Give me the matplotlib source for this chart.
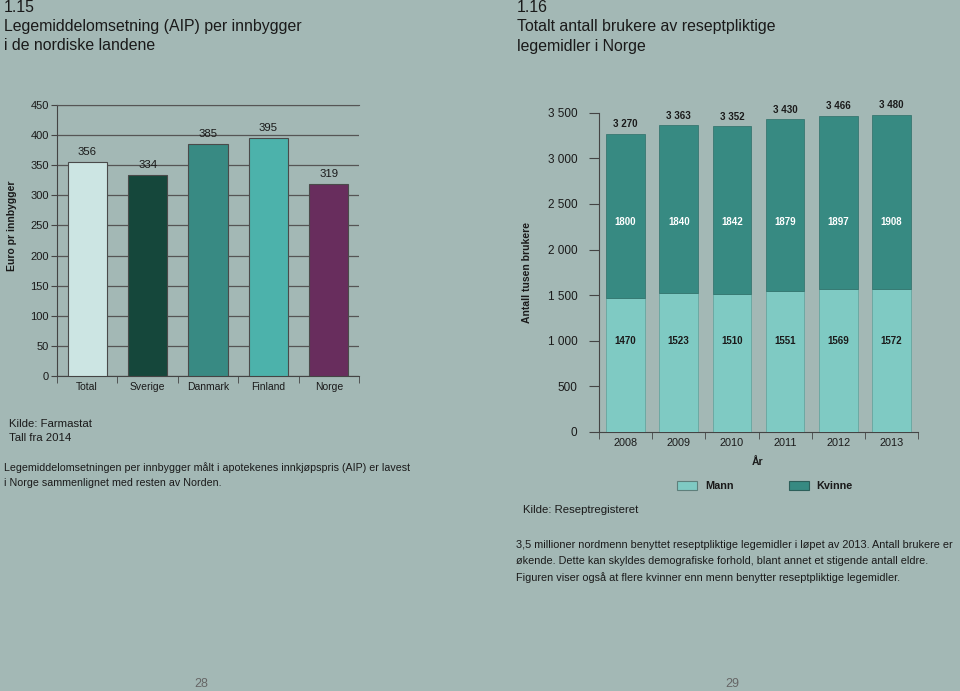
import matplotlib
matplotlib.use("Agg")
import matplotlib.pyplot as plt
from matplotlib.patches import Patch
from matplotlib.ticker import FuncFormatter, MultipleLocator, FixedLocator

plt.rcParams['font.family'] = ['Liberation Sans', 'DejaVu Sans']

# ---- data ----
countries = ["Total", "Sverige", "Danmark", "Finland", "Norge"]
aip_values = [356, 334, 385, 395, 319]
country_colors = ["#cce5e3", "#15473b", "#388a83", "#4cb2ab", "#682d5d"]

years = ["2008", "2009", "2010", "2011", "2012", "2013"]
mann = [1470, 1523, 1510, 1551, 1569, 1572]
kvinne = [1800, 1840, 1842, 1879, 1897, 1908]
totals = [3270, 3363, 3352, 3430, 3466, 3480]

BG = "#a3b8b5"
INK = "#1a1a1a"
AX = "#444444"
MANN_C = "#7fcac3"
KVINNE_C = "#378a82"

W, H = 960, 691
fig = plt.figure(figsize=(W / 100, H / 100), dpi=100, facecolor=BG)

def fx(px):
    return px / W

def fy(py):
    return 1 - py / H

TS = 11.4
# ---- titles ----
fig.text(fx(4), fy(8), "1.15", fontsize=TS, color=INK, va="center", ha="left")
fig.text(fx(4), fy(27), "Legemiddelomsetning (AIP) per innbygger", fontsize=TS, color=INK, va="center")
fig.text(fx(4), fy(46), "i de nordiske landene", fontsize=TS, color=INK, va="center")
fig.text(fx(517), fy(8), "1.16", fontsize=TS, color=INK, va="center")
fig.text(fx(517), fy(27), "Totalt antall brukere av reseptpliktige", fontsize=TS, color=INK, va="center")
fig.text(fx(517), fy(46), "legemidler i Norge", fontsize=TS, color=INK, va="center")

# ---- left chart ----
ax1 = fig.add_axes([fx(57), fy(376), fx(359 - 57), (376 - 105) / H])
ax1.set_facecolor("none")
x1 = list(range(len(countries)))
ax1.bar(x1, aip_values, width=0.65, color=country_colors, edgecolor="#4a4a4a", linewidth=0.8, zorder=3)
for xi, v in zip(x1, aip_values):
    ax1.text(xi, v + 8, f"{v}", ha="center", va="bottom", fontsize=8.2, color=INK, zorder=4)
ax1.set_xlim(-0.5, len(countries) - 0.5)
ax1.set_ylim(0, 450)
ax1.yaxis.set_major_locator(MultipleLocator(50))
ax1.grid(axis="y", color="#555555", linewidth=0.9, zorder=0)
ax1.set_axisbelow(True)
ax1.spines["right"].set_visible(False)
ax1.spines["top"].set_color("#555555")
ax1.spines["left"].set_color(AX)
ax1.spines["bottom"].set_color(AX)
ax1.set_xticks(x1)
ax1.set_xticklabels(countries, fontsize=7.5, color=INK)
ax1.tick_params(axis="x", which="major", length=0, pad=4)
ax1.xaxis.set_minor_locator(FixedLocator([i - 0.5 for i in range(len(countries) + 1)]))
ax1.tick_params(axis="x", which="minor", length=5, color=AX, direction="out")
ax1.tick_params(axis="y", labelsize=8, labelcolor=INK, length=4, color=AX, pad=2)
fig.text(fx(12), fy(226), "Euro pr innbygger", rotation=90, fontsize=7.5, fontweight="bold",
         color=INK, ha="center", va="center")

# ---- right chart ----
ax2 = fig.add_axes([fx(599), fy(432), fx(918 - 599), (432 - 112.7) / H])
ax2.set_facecolor("none")
x2 = list(range(len(years)))
ax2.bar(x2, mann, width=0.73, color=MANN_C, edgecolor="#5e9f99", linewidth=0.5, zorder=3)
ax2.bar(x2, kvinne, bottom=mann, width=0.73, color=KVINNE_C, edgecolor="#2d6e68", linewidth=0.5, zorder=3)
for xi, m, k, t in zip(x2, mann, kvinne, totals):
    ax2.text(xi, 1000, f"{m}", ha="center", va="center", fontsize=7, fontweight="bold", color=INK, zorder=4)
    ax2.text(xi, 2300, f"{k}", ha="center", va="center", fontsize=7, fontweight="bold", color="white", zorder=4)
    tl = f"{t:,}".replace(",", " ")
    ax2.text(xi, t + 50, tl, ha="center", va="bottom", fontsize=7, fontweight="bold", color=INK, zorder=4)
ax2.set_xlim(-0.5, len(years) - 0.5)
ax2.set_ylim(0, 3500)
ax2.yaxis.set_major_locator(MultipleLocator(500))
ax2.yaxis.set_major_formatter(FuncFormatter(lambda v, p: f"{int(v):,}".replace(",", " ")))
for s in ["top", "right"]:
    ax2.spines[s].set_visible(False)
ax2.spines["left"].set_color(AX)
ax2.spines["bottom"].set_color(AX)
ax2.set_xticks(x2)
ax2.set_xticklabels(years, fontsize=7.8, color=INK)
ax2.tick_params(axis="x", which="major", length=0, pad=4)
ax2.xaxis.set_minor_locator(FixedLocator([i - 0.5 for i in range(len(years) + 1)]))
ax2.tick_params(axis="x", which="minor", length=5, color=AX, direction="out")
ax2.tick_params(axis="y", labelsize=8.5, labelcolor=INK, length=7, color=AX, pad=8.5)
fig.text(fx(527), fy(272), "Antall tusen brukere", rotation=90, fontsize=7.5, fontweight="bold",
         color=INK, ha="center", va="center")
fig.text(fx(758), fy(462), "År", fontsize=7.5, fontweight="bold", color=INK, ha="center", va="center")

handles = [Patch(facecolor=MANN_C, edgecolor="#5e7f7b", linewidth=0.8, label="Mann"),
           Patch(facecolor=KVINNE_C, edgecolor="#2d5f5a", linewidth=0.8, label="Kvinne")]
leg = fig.legend(handles=handles, loc="center left", bbox_to_anchor=(fx(668), fy(486)), ncol=2,
                 frameon=False, fontsize=7.8, handlelength=1.9, handleheight=0.9,
                 handletextpad=0.7, columnspacing=5.1, borderpad=0.3)
for t in leg.get_texts():
    t.set_fontweight("bold")
    t.set_color(INK)

# ---- notes ----
fig.text(fx(9), fy(424), "Kilde: Farmastat", fontsize=8.2, color=INK, va="center")
fig.text(fx(9), fy(438), "Tall fra 2014", fontsize=8.2, color=INK, va="center")
fig.text(fx(4), fy(468), "Legemiddelomsetningen per innbygger målt i apotekenes innkjøpspris (AIP) er lavest",
         fontsize=7.68, color=INK, va="center")
fig.text(fx(4), fy(483), "i Norge sammenlignet med resten av Norden.", fontsize=7.68, color=INK, va="center")

fig.text(fx(523), fy(510), "Kilde: Reseptregisteret", fontsize=8.2, color=INK, va="center")
fig.text(fx(516), fy(545), "3,5 millioner nordmenn benyttet reseptpliktige legemidler i løpet av 2013. Antall brukere er",
         fontsize=7.85, color=INK, va="center")
fig.text(fx(516), fy(561), "økende. Dette kan skyldes demografiske forhold, blant annet et stigende antall eldre.",
         fontsize=7.85, color=INK, va="center")
fig.text(fx(516), fy(578), "Figuren viser også at flere kvinner enn menn benytter reseptpliktige legemidler.",
         fontsize=7.85, color=INK, va="center")

fig.text(fx(201), fy(684), "28", fontsize=9, color="#666666", ha="center", va="center")
fig.text(fx(732), fy(684), "29", fontsize=9, color="#666666", ha="center", va="center")

fig.savefig("out.png", dpi=100, facecolor=BG)
